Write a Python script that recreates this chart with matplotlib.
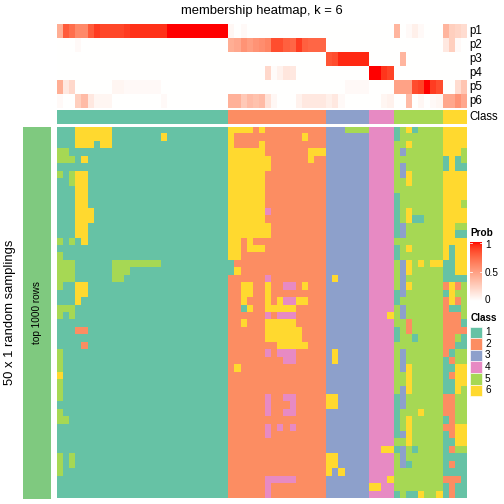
import numpy as np
import matplotlib
matplotlib.use('Agg')
import matplotlib.pyplot as plt
from matplotlib.colors import ListedColormap
from matplotlib.patches import Rectangle

plt.rcParams['font.family'] = ['Liberation Sans', 'DejaVu Sans']

# ---------------- data ----------------
title = "membership heatmap, k = 6"
class_labels = ["1", "2", "3", "4", "5", "6"]
class_colors = ["#66C2A5", "#FC8D62", "#8DA0CB", "#E78AC3", "#A6D854", "#FFD92F"]
prob_names = ["p1", "p2", "p3", "p4", "p5", "p6"]

col_class = "1111111111111111111111111111|2222222222222222|3333333|4444|55555555|6666"

# class assignment of each sample (column) in each of the 50 random samplings (rows)
samplings = [
    "1116666661111111111111111111|6666262222222222|3335555|4444|15615555|6666",
    "1116666661111111161111111111|6222222222226222|3333333|4444|15555555|6666",
    "1116661661111111111111111111|6222262222222222|3333333|4444|55655555|6666",
    "5511111111111111111111111111|6666662222222666|3333333|4444|53555555|6665",
    "5551611111111111111111111111|6666666222222622|3333333|4444|55555555|1615",
    "1111111111111111111111111111|6666666222222222|3333333|4444|53555555|1611",
    "5156611111111111111111111111|6666662222222222|3333333|4444|53655555|6666",
    "1156611111111111111111111111|6666662222222222|3333333|4444|55655555|6666",
    "1116611111111111111111111111|6666662222222222|3333333|4444|55555555|6666",
    "1116611111111111111111111111|6666662222222222|3333333|4444|15555555|6666",
    "1116611111111111111111111111|6666662222222222|3333333|4444|15555555|6665",
    "1116661111111111111111111111|6666664222222222|3333333|4444|15655555|6666",
    "1116661111111111111111111111|6666662222222222|3333333|4444|15611555|6666",
    "1116611111111111111111111111|6666666222222222|3333333|4444|13555555|6655",
    "1116611111111111111111111111|6666666222222222|3333333|4444|13555555|6611",
    "5151611111111111111111111111|6626222222222222|3333333|4444|55555555|6666",
    "1111111111111111111111111111|6626662222222222|3333333|4444|15655555|6166",
    "5111111111111111111111111111|6622222222222222|3333333|4444|15555555|6166",
    "5551111115555555511111111111|1222222222222222|3333333|4444|53656566|1166",
    "5551111115551111111111111111|1622222222222222|3333333|4444|53655555|1166",
    "5551111115511111111111111111|2222224222222222|3633333|4444|53555555|1111",
    "5116611111111111111111111111|2266226224426222|3333333|4444|53655555|2625",
    "1116611111111111111111111111|2266226222222222|3333333|4444|13555555|1655",
    "1116111111111111111111111111|2262226264466222|3333333|4444|15555555|2625",
    "5551111111111111111111111111|2216226666622222|3333333|4444|53555555|2115",
    "5151111111111111111111111111|2222224244422222|3333333|4446|53555555|2225",
    "1111111111111111111111111111|2262226666622222|3333333|4444|55255555|2221",
    "1112211111111111111111111111|2222226666662222|3333333|4444|15255555|2222",
    "1111111111111111111111111111|2222226666662222|3333333|4444|15515555|2251",
    "1111211111111111111111111111|2222222266666222|3333333|4444|55555555|2211",
    "5111111111111111111111111111|2222224244422222|3633333|4444|53555555|2155",
    "5111111111111111111111111111|2222222224422222|3633333|4444|53555555|1255",
    "5111111111111111111111111111|2622222222222222|3333333|4444|53655555|1166",
    "6111111111111111111111111111|2222222222222222|3333333|4444|55655555|1266",
    "5111111111111111111111111111|2222222222222222|3333333|4444|55655555|1166",
    "5111111111111111111111111111|2222222222222222|3333333|4444|53655555|1165",
    "5111111111111111111111111111|2222224224422222|6633333|4444|13555555|2255",
    "1111111111111111111111111111|2222224222422222|6633333|4444|13555555|2255",
    "5111111111111111111111111111|2222224224422222|3333333|4444|15556555|2255",
    "5511111111111111111111111111|2222222222222222|3333333|4444|15655555|1255",
    "1111111111111111111111111111|2222224242422222|3333333|4444|15655555|2266",
    "1111111111111111111111111111|2222224222222222|3333333|4444|13655555|1266",
    "1111111111111111111111111111|2222222222222222|3333333|4444|55655555|1166",
    "1111111111111111111111111111|2222222222222222|3333333|4466|13515555|1255",
    "5151111111111111111111111111|2222222222222222|6633333|4444|53555555|1111",
    "5151111111111111111111111111|2222222222222222|6633333|4444|53155555|1211",
    "5111111111111111111111111111|2222222222222222|6363333|4444|55555555|1111",
    "1111111111111111111111111111|2222224444422222|3333333|4446|55555555|2221",
    "1111111111111111111111111111|2222224222222222|3333333|6644|55555555|1211",
    "1111111111111111111111111111|2222224222222222|3333333|4444|15116556|1211",
]

p1 = [0.42, 0.80, 0.72, 0.60, 0.60, 0.80, 0.90, 0.87, 0.87, 0.87, 0.87, 0.90, 0.93, 0.93,
      0.93, 0.93, 0.93, 0.93, 1.0, 1.0, 1.0, 1.0, 1.0, 1.0, 1.0, 1.0, 1.0, 1.0,
      0.04, 0, 0.03, 0, 0, 0, 0, 0, 0, 0, 0, 0, 0, 0, 0, 0,
      0, 0, 0, 0, 0, 0, 0,
      0, 0, 0, 0,
      0.38, 0, 0.03, 0.08, 0.03, 0, 0, 0,
      0.38, 0.25, 0.22, 0.18]
p2 = [0, 0, 0, 0.03, 0, 0, 0, 0, 0, 0, 0, 0, 0, 0,
      0, 0, 0, 0, 0, 0, 0, 0, 0, 0, 0, 0, 0, 0,
      0.42, 0.45, 0.55, 0.50, 0.55, 0.58, 0.62, 0.85, 0.85, 0.78, 0.75, 0.90, 0.78, 0.75, 0.75, 0.75,
      0, 0, 0, 0, 0, 0, 0,
      0, 0, 0, 0,
      0, 0, 0, 0, 0, 0, 0, 0,
      0.12, 0.25, 0.03, 0]
p3 = [0, 0, 0, 0, 0, 0, 0, 0, 0, 0, 0, 0, 0, 0,
      0, 0, 0, 0, 0, 0, 0, 0, 0, 0, 0, 0, 0, 0,
      0, 0, 0, 0, 0, 0, 0, 0, 0, 0, 0, 0, 0, 0, 0, 0,
      0.82, 0.85, 0.95, 0.95, 0.95, 0.95, 0.95,
      0, 0, 0, 0,
      0, 0.38, 0, 0, 0, 0, 0, 0,
      0, 0, 0, 0]
p4 = [0, 0, 0, 0, 0, 0, 0, 0, 0, 0, 0, 0, 0, 0,
      0, 0, 0, 0, 0, 0, 0, 0, 0, 0, 0, 0, 0, 0,
      0, 0, 0, 0, 0, 0, 0.20, 0.02, 0.07, 0.13, 0.12, 0, 0, 0, 0, 0,
      0, 0, 0, 0, 0, 0, 0,
      1.0, 1.0, 0.92, 0.88,
      0, 0, 0, 0, 0, 0, 0, 0,
      0, 0, 0, 0]
p5 = [0.42, 0.12, 0.20, 0, 0, 0, 0, 0, 0, 0.05, 0.05, 0.03, 0.03, 0.03,
      0.03, 0.03, 0.03, 0, 0, 0, 0, 0, 0, 0, 0, 0, 0, 0,
      0, 0, 0, 0, 0, 0, 0, 0, 0, 0, 0, 0, 0, 0, 0, 0,
      0, 0, 0, 0.03, 0.03, 0.03, 0.03,
      0, 0, 0, 0,
      0.48, 0.48, 0.48, 0.85, 0.88, 1.0, 0.90, 0.85,
      0, 0, 0.18, 0.30]
p6 = [0.03, 0, 0, 0.25, 0.35, 0.12, 0.05, 0.05, 0.05, 0, 0, 0, 0, 0,
      0, 0, 0, 0.03, 0, 0, 0, 0, 0, 0, 0, 0, 0, 0,
      0.40, 0.40, 0.28, 0.35, 0.32, 0.35, 0.15, 0.04, 0, 0, 0, 0.07, 0.12, 0.12, 0.12, 0.12,
      0.08, 0.12, 0.03, 0, 0, 0, 0,
      0, 0, 0.05, 0.07,
      0, 0, 0.35, 0, 0.04, 0, 0.03, 0.05,
      0.45, 0.45, 0.55, 0.45]

# ---------------- helpers ----------------
def lab2rgb(L, a, b):
    fy = (L + 16) / 116.0
    fx = fy + a / 500.0
    fz = fy - b / 200.0
    def finv(t):
        return t ** 3 if t > 6 / 29 else 3 * (6 / 29) ** 2 * (t - 4 / 29)
    X, Y, Z = 0.95047 * finv(fx), finv(fy), 1.08883 * finv(fz)
    r = 3.2406 * X - 1.5372 * Y - 0.4986 * Z
    g = -0.9689 * X + 1.8758 * Y + 0.0415 * Z
    bb = 0.0557 * X - 0.2040 * Y + 1.0570 * Z
    out = []
    for c in (r, g, bb):
        c = 12.92 * c if c <= 0.0031308 else 1.055 * c ** (1 / 2.4) - 0.055
        out.append(min(max(c, 0), 1))
    return out

white_lab = (100.0, 0.0, 0.0)
red_lab = (53.2408, 80.0925, 67.2032)
ramp = [lab2rgb(*[w + (r - w) * t for w, r in zip(white_lab, red_lab)])
        for t in np.linspace(0, 1, 256)]
prob_cmap = ListedColormap(ramp)
class_cmap = ListedColormap(class_colors)

def to_int_rows(s):
    return [int(ch) for ch in s.replace('|', '')]

M = np.array([to_int_rows(r) for r in samplings])
C = np.array([to_int_rows(col_class)])
P = np.array([p1, p2, p3, p4, p5, p6], dtype=float)

W = H = 504
fig = plt.figure(figsize=(7, 7), dpi=72)

def ax_px(x0, y0, x1, y1):
    a = fig.add_axes([x0 / W, 1 - y1 / H, (x1 - x0) / W, (y1 - y0) / H])
    a.set_axis_off()
    return a

def txt(x, y, s, **kw):
    fig.text(x / W, 1 - y / H, s, **kw)

X0, X1 = 57, 466.7

# membership probabilities
axp = ax_px(X0, 24, X1, 108)
axp.imshow(P, cmap=prob_cmap, vmin=0, vmax=1, aspect='auto', interpolation='nearest')
# class annotation
axc = ax_px(X0, 110, X1, 124)
axc.imshow(C, cmap=class_cmap, vmin=0.5, vmax=6.5, aspect='auto', interpolation='nearest')
# main heatmap
axm = ax_px(X0, 127, X1, 498.5)
axm.imshow(M, cmap=class_cmap, vmin=0.5, vmax=6.5, aspect='auto', interpolation='nearest')

# left green bar
axg = fig.add_axes([23 / W, 1 - 498.5 / H, 27.5 / W, 371.5 / H])
axg.set_facecolor('#7FC97F')
axg.set_xticks([]); axg.set_yticks([])
for sp in axg.spines.values():
    sp.set_visible(False)
axg.text(0.5, 0.5, "top 1000 rows", rotation=90, ha='center', va='center',
         fontsize=10, transform=axg.transAxes)

txt(10, 312, "50 x 1 random samplings", rotation=90, ha='center', va='center', fontsize=13)

# title
txt(262, 11, title, ha='center', va='center', fontsize=13)

# row names
for i, nm in enumerate(prob_names):
    txt(469, 24 + 14 * i + 7, nm, va='center', ha='left', fontsize=11.5)
txt(469, 117, "Class", va='center', ha='left', fontsize=11.5)

# Prob legend
txt(470.5, 233.5, "Prob", fontweight='bold', fontsize=10, va='center', ha='left')
axcb = ax_px(470, 242, 482, 301)
axcb.imshow(np.linspace(1, 0, 200)[:, None], cmap=prob_cmap, vmin=0, vmax=1,
            aspect='auto', extent=(0, 1, 0, 1))
axcb.set_xlim(0, 1); axcb.set_ylim(0, 1)
for v in (0.5, 0.975):
    axcb.plot([0, 0.2], [v, v], color='white', lw=0.8)
    axcb.plot([0.8, 1], [v, v], color='white', lw=0.8)
txt(485, 244.5, "1", va='center', fontsize=10)
txt(485, 272.5, "0.5", va='center', fontsize=10)
txt(485, 300, "0", va='center', fontsize=10)

# Class legend
txt(470.5, 318, "Class", fontweight='bold', fontsize=10, va='center', ha='left')
for k, (lab, col) in enumerate(zip(class_labels, class_colors)):
    top = 326.5 + 11.6 * k
    fig.add_artist(Rectangle((470 / W, 1 - (top + 11.6) / H), 12 / W, 11.6 / H,
                             transform=fig.transFigure, facecolor=col,
                             edgecolor='white', lw=0.6))
    txt(485, top + 5.8, lab, va='center', fontsize=10)

fig.savefig("out.png", dpi=72)
